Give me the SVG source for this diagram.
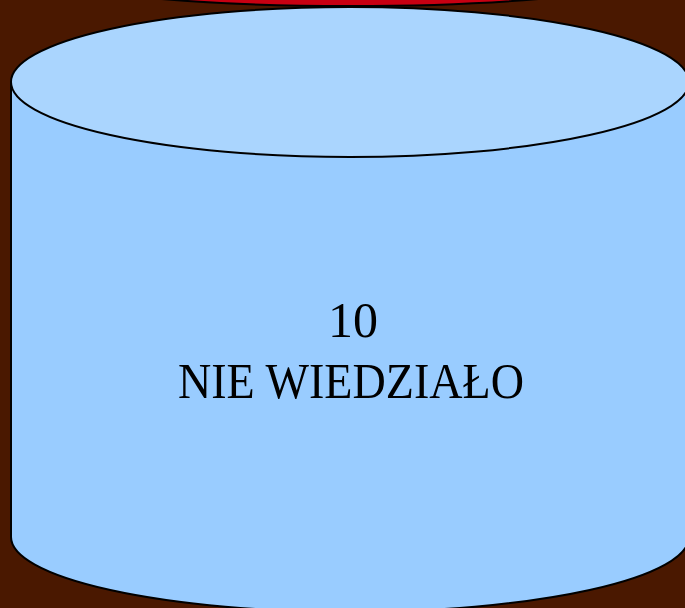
<svg xmlns="http://www.w3.org/2000/svg" width="685" height="608" viewBox="0 0 685 608">
<style>
.stroke{stroke:#000;stroke-width:2}
.lbl{font-family:"Liberation Serif","DejaVu Serif",serif;font-size:46px;fill:#000;text-anchor:middle}
</style>
<rect x="0" y="0" width="685" height="608" fill="#4a1800"/>
<g id="node-red">
<ellipse cx="350" cy="-36" rx="339" ry="42" fill="#c80012" class="stroke"/>
</g>
<g id="node-10">
<path d="M11,82 L11,537 A339,75 0 0 0 689,537 L689,82 Z" fill="#99ccff" class="stroke"/>
<ellipse cx="350" cy="82" rx="339" ry="75" fill="#aad5fe" class="stroke"/>
<text class="lbl" x="353" y="337" textLength="50" lengthAdjust="spacingAndGlyphs" transform="translate(0,-30) scale(1,1.09)">10</text>
<text class="lbl" x="351" y="397" textLength="346" lengthAdjust="spacingAndGlyphs" transform="translate(0,-35) scale(1,1.09)">NIE WIEDZIAŁO</text>
</g>
<g id="connectors"></g>
</svg>
